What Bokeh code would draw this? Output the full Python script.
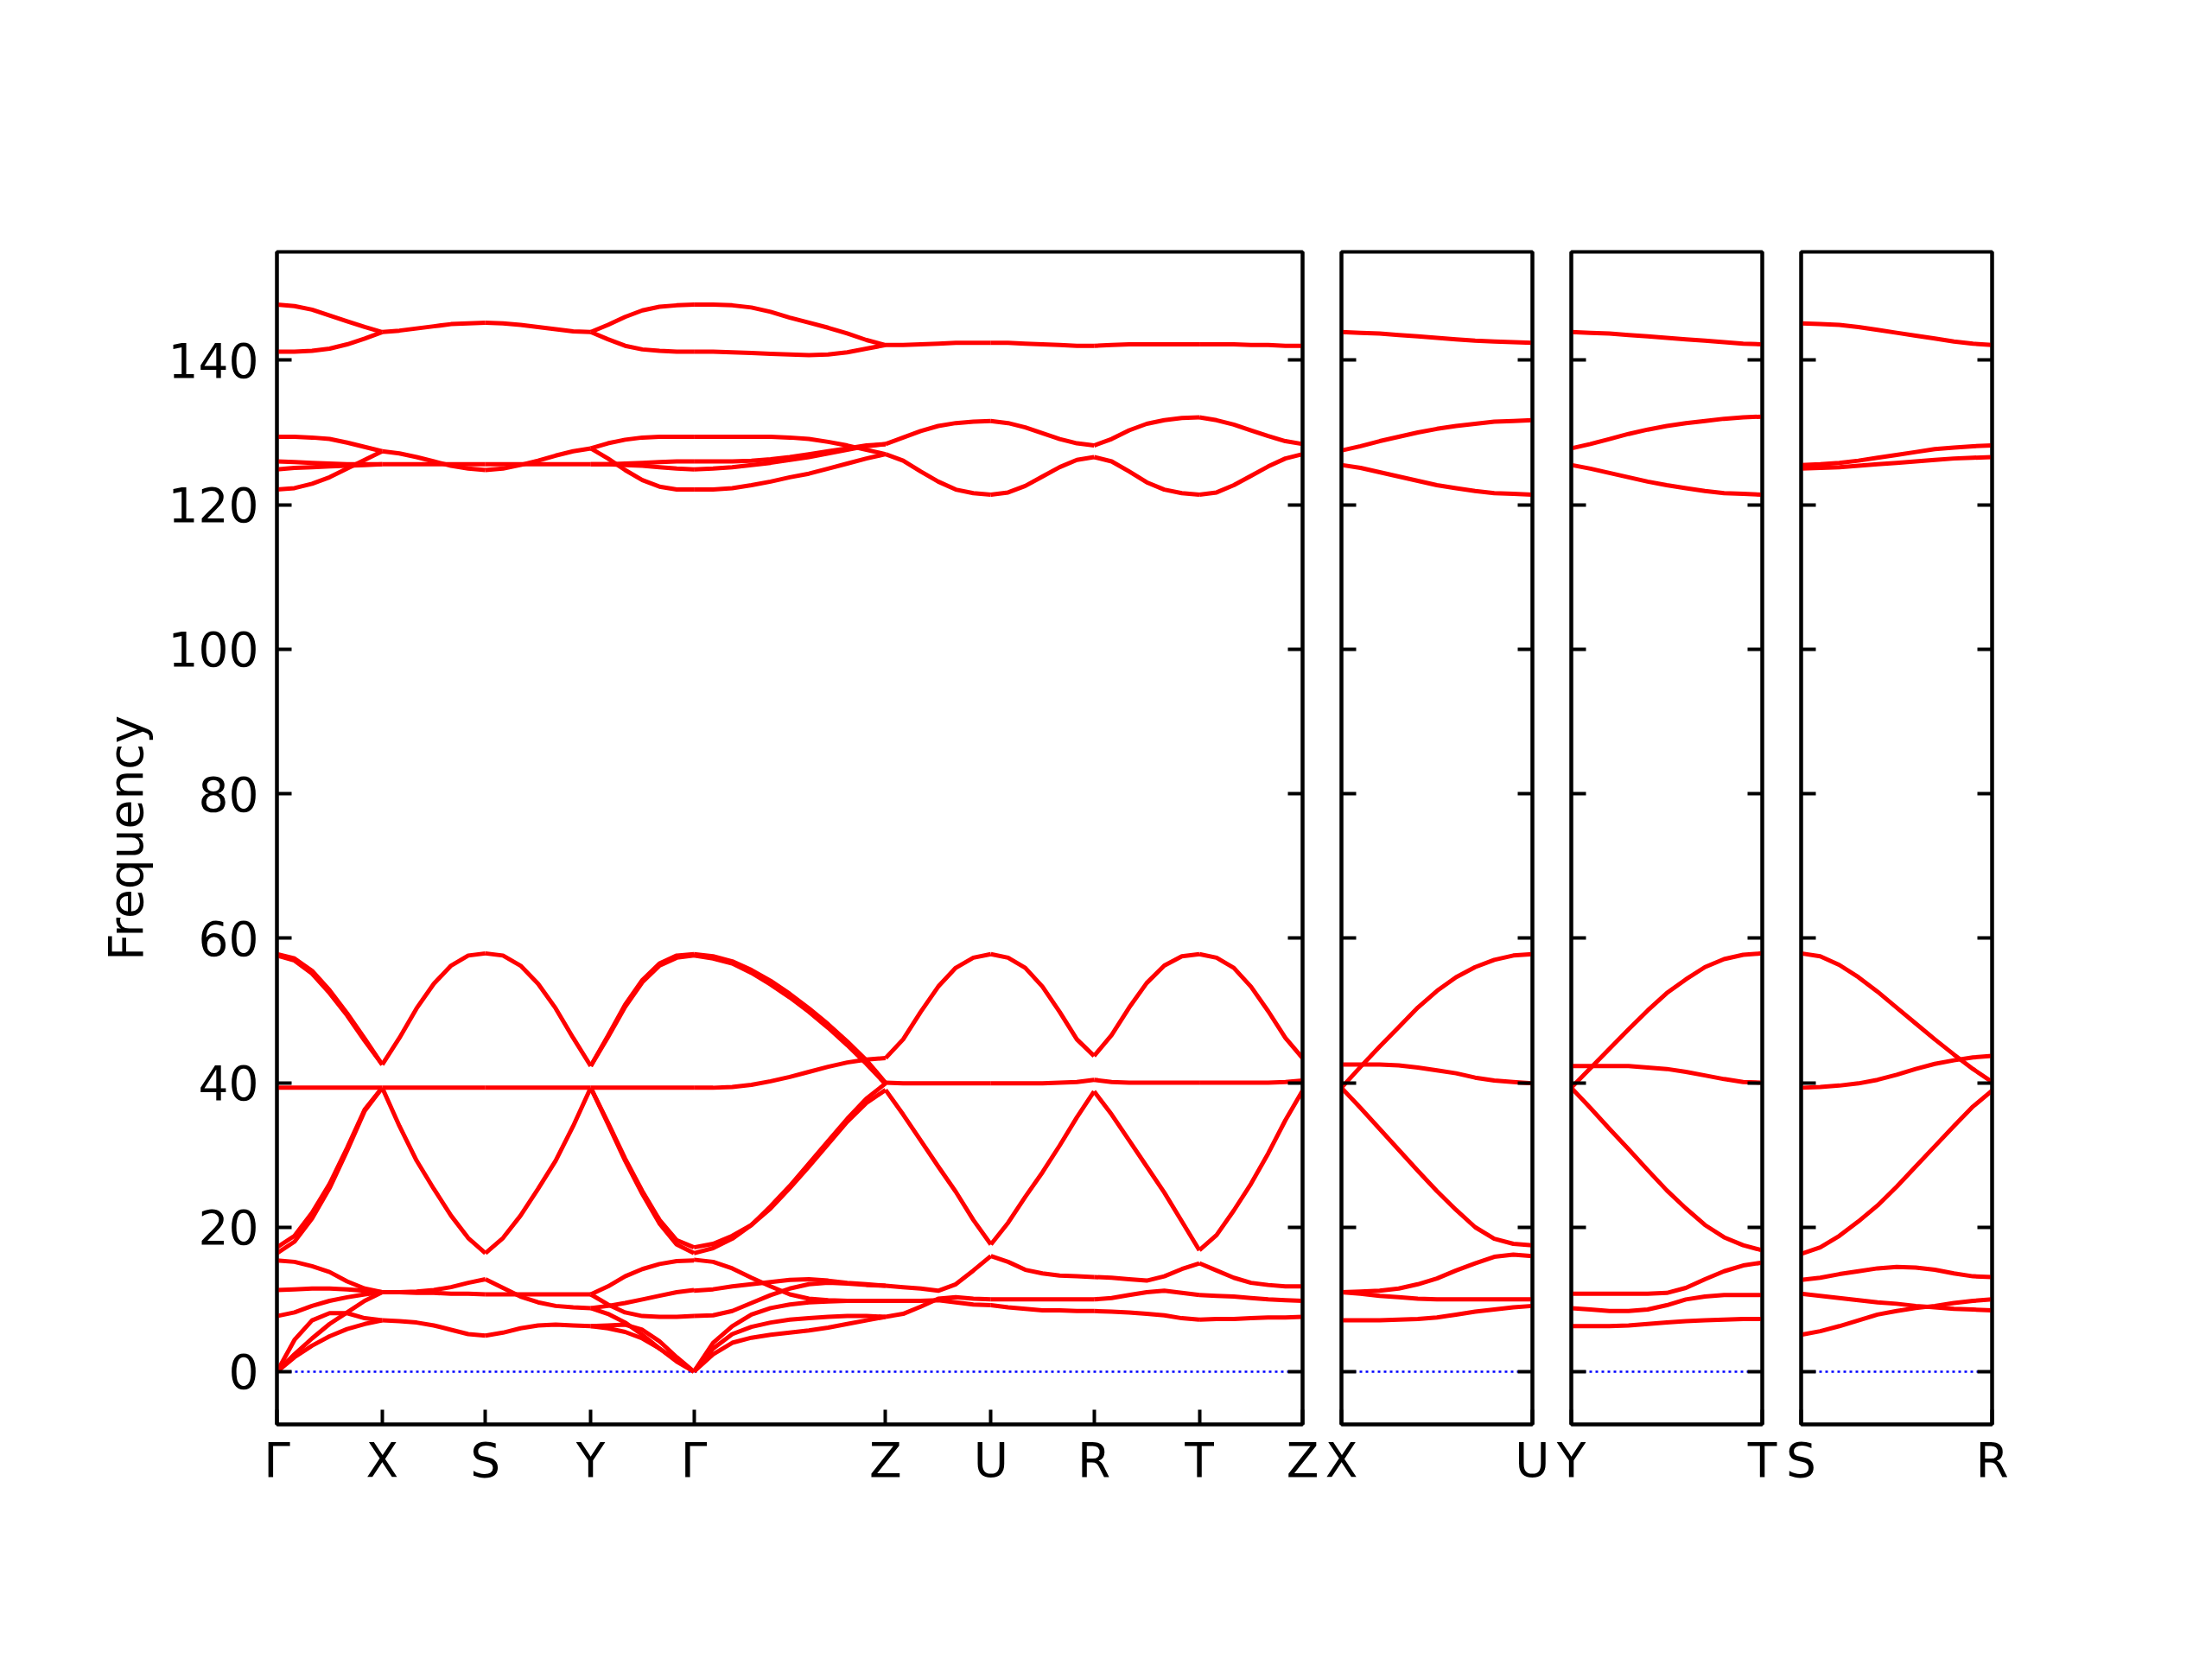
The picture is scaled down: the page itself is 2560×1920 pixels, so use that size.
from bokeh.plotting import figure
from bokeh.models import Range1d, FixedTicker, LinearAxis, CustomJSTickFormatter, Span
from bokeh.layouts import row
from bokeh.embed import file_html
from bokeh.resources import INLINE

# ------------------------------------------------------------------ data
main_labels = ["Γ", "X", "S", "Y", "Γ", "Z", "U", "R", "T", "Z"]
main_seg_len = [1.0, 0.98, 1.0, 0.98, 1.82, 1.0, 0.98, 1.0, 0.98]
side_len = 1.82
side_labels = [["X", "U"], ["Y", "T"], ["S", "R"]]
yticks = [0, 20, 40, 60, 80, 100, 120, 140]

# each list: one band along the segment, evenly spaced samples
seg_GX = [
    [147.7, 147.5, 147.0, 146.2, 145.4, 144.6, 143.9],
    [141.2, 141.2, 141.3, 141.6, 142.2, 143.0, 143.9],
    [129.4, 129.4, 129.3, 129.1, 128.6, 128.0, 127.4],
    [122.1, 122.3, 122.9, 123.8, 125.0, 126.2, 127.4],
    [126.0, 125.9, 125.8, 125.7, 125.6, 125.6, 125.6],
    [124.9, 125.1, 125.2, 125.3, 125.4, 125.5, 125.6],
    [57.8, 57.2, 55.5, 52.8, 49.6, 46.1, 42.5],
    [57.6, 56.9, 55.1, 52.4, 49.3, 45.8, 42.5],
    [39.3, 39.3, 39.3, 39.3, 39.3, 39.3, 39.3],
    [17.2, 18.8, 22.0, 26.0, 31.0, 36.3, 39.3],
    [16.4, 18.0, 21.2, 25.4, 30.6, 36.1, 39.3],
    [15.4, 15.2, 14.6, 13.8, 12.5, 11.5, 11.0],
    [11.3, 11.4, 11.5, 11.5, 11.4, 11.2, 11.0],
    [7.7, 8.2, 9.1, 9.8, 10.3, 10.7, 11.0],
    [0.0, 4.4, 7.1, 8.1, 8.1, 7.4, 7.1],
    [0.0, 2.4, 4.6, 6.6, 8.2, 9.8, 11.0],
    [0.0, 2.0, 3.6, 4.9, 5.9, 6.6, 7.1],
]
seg_XS = [
    [143.9, 144.1, 144.4, 144.7, 145.0, 145.1, 145.2],
    [127.4, 127.1, 126.6, 126.0, 125.4, 125.0, 124.8],
    [125.6, 125.6, 125.6, 125.6, 125.6, 125.6, 125.6],
    [42.5, 46.2, 50.3, 53.7, 56.2, 57.6, 57.9],
    [39.3, 39.3, 39.3, 39.3, 39.3, 39.3, 39.3],
    [39.3, 34.0, 29.2, 25.3, 21.6, 18.5, 16.4],
    [11.0, 11.0, 11.1, 11.3, 11.7, 12.3, 12.8],
    [11.0, 11.0, 10.9, 10.9, 10.8, 10.8, 10.7],
    [7.1, 7.0, 6.8, 6.4, 5.8, 5.2, 5.0],
]
seg_SY = [
    [145.2, 145.1, 144.9, 144.6, 144.3, 144.0, 143.9],
    [124.8, 125.0, 125.5, 126.1, 126.8, 127.4, 127.8],
    [125.6, 125.6, 125.6, 125.6, 125.6, 125.6, 125.6],
    [57.9, 57.6, 56.2, 53.7, 50.3, 46.2, 42.3],
    [39.3, 39.3, 39.3, 39.3, 39.3, 39.3, 39.3],
    [16.4, 18.5, 21.6, 25.3, 29.2, 34.0, 39.3],
    [12.8, 11.6, 10.4, 9.6, 9.1, 8.9, 8.8],
    [10.7, 10.7, 10.7, 10.7, 10.7, 10.7, 10.7],
    [5.0, 5.4, 6.0, 6.4, 6.5, 6.4, 6.3],
]
seg_YG = [
    [143.9, 144.9, 146.0, 146.9, 147.4, 147.6, 147.7],
    [143.9, 142.9, 142.0, 141.5, 141.3, 141.2, 141.2],
    [127.8, 128.5, 129.0, 129.3, 129.4, 129.4, 129.4],
    [127.8, 126.4, 124.8, 123.4, 122.5, 122.1, 122.1],
    [125.6, 125.6, 125.7, 125.8, 125.9, 126.0, 126.0],
    [125.6, 125.6, 125.5, 125.4, 125.2, 125.0, 124.9],
    [42.3, 46.5, 50.8, 54.2, 56.5, 57.6, 57.8],
    [42.3, 46.3, 50.5, 53.9, 56.2, 57.3, 57.6],
    [39.3, 39.3, 39.3, 39.3, 39.3, 39.3, 39.3],
    [39.3, 34.5, 29.5, 25.0, 21.0, 18.2, 17.2],
    [39.3, 34.3, 29.2, 24.6, 20.5, 17.6, 16.4],
    [10.7, 11.8, 13.2, 14.2, 14.9, 15.3, 15.4],
    [10.7, 9.3, 8.2, 7.7, 7.6, 7.6, 7.7],
    [8.8, 9.1, 9.5, 10.0, 10.5, 11.0, 11.3],
    [8.8, 8.0, 6.8, 5.1, 3.2, 1.4, 0.0],
    [6.3, 6.4, 6.5, 5.8, 4.2, 2.0, 0.0],
    [6.3, 6.0, 5.5, 4.6, 3.2, 1.6, 0.0],
]
seg_GZ = [
    [147.7, 147.7, 147.6, 147.3, 146.7, 145.9, 145.2, 144.5, 143.7, 142.8, 142.1],
    [141.2, 141.2, 141.1, 141.0, 140.9, 140.8, 140.7, 140.8, 141.1, 141.6, 142.1],
    [129.4, 129.4, 129.4, 129.4, 129.4, 129.3, 129.1, 128.7, 128.2, 127.6, 127.0],
    [126.0, 126.0, 126.0, 126.1, 126.3, 126.6, 127.0, 127.4, 127.8, 128.2, 128.4],
    [124.9, 125.0, 125.2, 125.5, 125.8, 126.2, 126.6, 127.1, 127.6, 128.1, 128.4],
    [122.1, 122.1, 122.3, 122.7, 123.2, 123.8, 124.3, 125.0, 125.7, 126.4, 127.0],
    [57.8, 57.5, 56.8, 55.6, 54.1, 52.3, 50.3, 48.1, 45.7, 43.1, 40.0],
    [57.6, 57.2, 56.5, 55.2, 53.6, 51.8, 49.8, 47.6, 45.2, 42.6, 39.8],
    [39.3, 39.3, 39.4, 39.7, 40.2, 40.8, 41.5, 42.2, 42.8, 43.2, 43.4],
    [17.2, 17.7, 18.8, 20.3, 22.6, 25.4, 28.4, 31.5, 34.6, 37.2, 39.0],
    [16.4, 17.1, 18.4, 20.3, 22.9, 25.7, 28.8, 31.9, 35.0, 37.8, 39.9],
    [15.5, 15.2, 14.3, 13.0, 11.8, 10.7, 10.1, 9.9, 9.8, 9.8, 9.8],
    [11.2, 11.4, 11.8, 12.1, 12.4, 12.7, 12.8, 12.6, 12.3, 12.1, 11.9],
    [7.7, 7.8, 8.4, 9.5, 10.6, 11.5, 12.1, 12.3, 12.2, 12.0, 11.9],
    [0.0, 4.0, 6.3, 7.9, 8.8, 9.3, 9.6, 9.7, 9.8, 9.8, 9.8],
    [0.0, 3.2, 5.2, 6.2, 6.8, 7.2, 7.4, 7.6, 7.7, 7.7, 7.6],
    [0.0, 2.4, 4.0, 4.7, 5.1, 5.4, 5.7, 6.1, 6.6, 7.1, 7.6],
]
seg_ZU = [
    [142.1, 142.1, 142.2, 142.3, 142.4, 142.4, 142.4],
    [128.4, 129.3, 130.2, 130.9, 131.3, 131.5, 131.6],
    [127.0, 126.1, 124.6, 123.2, 122.1, 121.6, 121.4],
    [43.4, 46.0, 49.8, 53.3, 55.9, 57.3, 57.8],
    [40.0, 39.9, 39.9, 39.9, 39.9, 39.9, 39.9],
    [39.0, 35.6, 32.0, 28.4, 24.9, 21.0, 17.6],
    [11.9, 11.7, 11.5, 11.2, 12.1, 14.0, 16.0],
    [9.8, 9.8, 9.8, 9.9, 9.6, 9.3, 9.2],
    [7.6, 8.0, 9.0, 10.1, 10.3, 10.1, 10.0],
]
seg_UR = [
    [142.4, 142.4, 142.3, 142.2, 142.1, 142.0, 142.0],
    [131.6, 131.3, 130.7, 129.9, 129.1, 128.5, 128.2],
    [121.4, 121.7, 122.6, 123.9, 125.2, 126.2, 126.6],
    [57.8, 57.3, 55.9, 53.3, 49.8, 46.0, 43.7],
    [39.9, 39.9, 39.9, 39.9, 40.0, 40.1, 40.4],
    [17.6, 20.6, 24.2, 27.6, 31.3, 35.2, 38.8],
    [16.0, 15.2, 14.1, 13.6, 13.3, 13.2, 13.1],
    [10.0, 10.0, 10.0, 10.0, 10.0, 10.0, 10.0],
    [9.2, 8.9, 8.7, 8.5, 8.5, 8.4, 8.4],
]
seg_RT = [
    [142.0, 142.1, 142.2, 142.2, 142.2, 142.2, 142.2],
    [128.2, 129.1, 130.3, 131.2, 131.7, 132.0, 132.1],
    [126.6, 126.0, 124.6, 123.1, 122.1, 121.6, 121.4],
    [43.7, 46.6, 50.4, 53.8, 56.2, 57.5, 57.8],
    [40.4, 40.1, 40.0, 40.0, 40.0, 40.0, 40.0],
    [38.8, 35.6, 32.0, 28.4, 24.8, 20.8, 16.8],
    [13.1, 13.0, 12.8, 12.6, 13.2, 14.2, 15.0],
    [10.0, 10.2, 10.6, 11.0, 11.2, 10.9, 10.6],
    [8.4, 8.3, 8.2, 8.0, 7.8, 7.4, 7.2],
]
seg_TZ = [
    [142.2, 142.2, 142.2, 142.1, 142.1, 142.0, 142.0],
    [132.1, 131.7, 131.1, 130.3, 129.5, 128.8, 128.4],
    [121.4, 121.7, 122.7, 124.0, 125.3, 126.4, 127.0],
    [57.8, 57.3, 55.9, 53.3, 49.9, 46.2, 43.4],
    [40.0, 40.0, 40.0, 40.0, 40.0, 40.1, 40.3],
    [16.8, 18.9, 22.3, 26.0, 30.2, 34.8, 38.9],
    [15.0, 14.0, 13.0, 12.3, 12.0, 11.8, 11.8],
    [10.6, 10.5, 10.4, 10.2, 10.0, 9.9, 9.8],
    [7.2, 7.3, 7.3, 7.4, 7.5, 7.5, 7.6],
]
seg_XU = [
    [143.9, 143.8, 143.7, 143.5, 143.3, 143.1, 142.9, 142.7, 142.6, 142.5, 142.4],
    [127.5, 128.1, 128.8, 129.4, 130.0, 130.5, 130.9, 131.2, 131.5, 131.6, 131.7],
    [125.5, 125.1, 124.5, 123.9, 123.3, 122.7, 122.3, 121.9, 121.6, 121.5, 121.4],
    [39.3, 42.2, 45.0, 47.7, 50.4, 52.7, 54.6, 56.0, 57.0, 57.6, 57.8],
    [42.5, 42.5, 42.5, 42.4, 42.1, 41.7, 41.3, 40.7, 40.3, 40.1, 39.9],
    [39.3, 36.5, 33.6, 30.7, 27.8, 25.0, 22.4, 20.0, 18.4, 17.7, 17.5],
    [11.0, 11.1, 11.2, 11.5, 12.1, 12.9, 14.0, 15.0, 15.9, 16.2, 16.0],
    [11.0, 10.8, 10.5, 10.3, 10.1, 10.0, 10.0, 10.0, 10.0, 10.0, 10.0],
    [7.1, 7.1, 7.1, 7.2, 7.3, 7.5, 7.9, 8.3, 8.6, 8.9, 9.1],
]
seg_YT = [
    [143.9, 143.8, 143.7, 143.5, 143.3, 143.1, 142.9, 142.7, 142.5, 142.3, 142.2],
    [127.8, 128.4, 129.1, 129.8, 130.4, 130.9, 131.3, 131.6, 131.9, 132.1, 132.2],
    [125.5, 125.0, 124.4, 123.8, 123.2, 122.7, 122.3, 121.9, 121.6, 121.5, 121.4],
    [39.3, 42.0, 44.7, 47.4, 50.0, 52.4, 54.3, 56.0, 57.1, 57.7, 57.9],
    [42.3, 42.3, 42.3, 42.3, 42.1, 41.9, 41.5, 41.0, 40.5, 40.1, 40.0],
    [39.3, 36.5, 33.6, 30.8, 27.9, 25.1, 22.6, 20.3, 18.6, 17.5, 16.8],
    [10.8, 10.8, 10.8, 10.8, 10.8, 10.9, 11.6, 12.8, 13.9, 14.7, 15.1],
    [8.8, 8.6, 8.4, 8.4, 8.6, 9.2, 10.0, 10.4, 10.6, 10.6, 10.6],
    [6.3, 6.3, 6.3, 6.4, 6.6, 6.8, 7.0, 7.1, 7.2, 7.3, 7.3],
]
seg_SR = [
    [145.1, 145.0, 144.9, 144.6, 144.2, 143.8, 143.4, 143.0, 142.6, 142.3, 142.1],
    [125.5, 125.6, 125.8, 126.1, 126.5, 126.9, 127.3, 127.7, 127.9, 128.1, 128.2],
    [125.0, 125.1, 125.2, 125.4, 125.6, 125.8, 126.0, 126.2, 126.4, 126.5, 126.6],
    [57.9, 57.5, 56.3, 54.6, 52.6, 50.4, 48.2, 46.0, 43.9, 41.9, 40.1],
    [39.3, 39.4, 39.6, 39.9, 40.4, 41.1, 41.9, 42.6, 43.1, 43.5, 43.7],
    [16.3, 17.2, 18.8, 20.8, 23.0, 25.6, 28.4, 31.2, 34.0, 36.7, 38.9],
    [12.7, 13.0, 13.5, 13.9, 14.3, 14.5, 14.4, 14.1, 13.6, 13.2, 13.1],
    [10.8, 10.5, 10.2, 9.9, 9.6, 9.4, 9.1, 8.9, 8.7, 8.6, 8.5],
    [5.1, 5.6, 6.3, 7.1, 7.9, 8.4, 8.8, 9.1, 9.5, 9.8, 10.0],
]

main_segments = [seg_GX, seg_XS, seg_SY, seg_YG, seg_GZ, seg_ZU, seg_UR, seg_RT, seg_TZ]
side_segments = [seg_XU, seg_YT, seg_SR]

# ------------------------------------------------------------------ style
FONT = "DejaVu Sans"
FS = "55px"
FRAME_H = 1357
TOP_B = 291
BOT_B = 200
Y0, Y1 = -7.3, 155.0
RED = "#ff0000"
LW = 5

LABEL_JS = """
let best = 0;
for (let i = 0; i < pos.length; i++) {
  if (Math.abs(pos[i] - tick) < Math.abs(pos[best] - tick)) { best = i; }
}
return labs[best];
"""


def segment_xy(bands, x0, length):
    xs, ys = [], []
    for band in bands:
        n = len(band)
        xs.append([x0 + length * i / (n - 1) for i in range(n)])
        ys.append(list(band))
    return xs, ys


def make_panel(xlen, tick_pos, tick_labels, frame_w, bl, br, main):
    p = figure(frame_width=frame_w, frame_height=FRAME_H,
               x_range=Range1d(0, xlen), y_range=Range1d(Y0, Y1),
               output_backend="svg", toolbar_location=None,
               min_border_left=bl, min_border_right=br,
               min_border_top=TOP_B, min_border_bottom=BOT_B)
    p.grid.visible = False
    p.outline_line_color = "black"
    p.outline_line_width = 4
    p.outline_line_alpha = 1.0
    p.background_fill_color = "white"
    p.border_fill_color = "white"

    xa = p.xaxis[0]
    xa.ticker = FixedTicker(ticks=tick_pos)
    xa.formatter = CustomJSTickFormatter(args=dict(pos=tick_pos, labs=tick_labels), code=LABEL_JS)
    xa.major_tick_in = 17
    xa.major_tick_out = 0
    xa.minor_tick_line_color = None
    xa.axis_line_width = 4
    xa.major_tick_line_width = 4
    xa.major_label_text_font = FONT
    xa.major_label_text_font_size = FS
    xa.major_label_text_color = "black"
    xa.major_label_standoff = 9

    ya = p.yaxis[0]
    ya.ticker = FixedTicker(ticks=yticks)
    ya.major_tick_in = 17
    ya.major_tick_out = 0
    ya.minor_tick_line_color = None
    ya.axis_line_width = 4
    ya.major_tick_line_width = 4
    if main:
        ya.major_label_text_font = FONT
        ya.major_label_text_font_size = FS
        ya.major_label_text_color = "black"
        ya.major_label_standoff = 21
        ya.axis_label = "Frequency"
        ya.axis_label_text_font = FONT
        ya.axis_label_text_font_size = FS
        ya.axis_label_text_font_style = "normal"
        ya.axis_label_text_color = "black"
        ya.axis_label_standoff = 14
    else:
        ya.formatter = CustomJSTickFormatter(code="return '';")
        ya.major_label_standoff = 0

    ra = LinearAxis(ticker=FixedTicker(ticks=yticks),
                    formatter=CustomJSTickFormatter(code="return '';"),
                    major_tick_in=17, major_tick_out=0, minor_tick_line_color=None,
                    axis_line_width=4, major_tick_line_width=4, major_label_standoff=0)
    p.add_layout(ra, "right")

    p.add_layout(Span(location=0, dimension="width", line_color="#0000ff",
                      line_width=2.5, line_dash="3 4", level="underlay"))
    return p


# main panel
kpos = [0.0]
for L in main_seg_len:
    kpos.append(kpos[-1] + L)
p1 = make_panel(kpos[-1], kpos, main_labels, 1187, 320, 22, True)
for seg, x0, L in zip(main_segments, kpos[:-1], main_seg_len):
    xs, ys = segment_xy(seg, x0, L)
    p1.multi_line(xs, ys, line_color=RED, line_width=LW, line_join="round")

panels = [p1]
for seg, labs, br in zip(side_segments, side_labels, [22, 22, 30]):
    p = make_panel(side_len, [0.0, side_len], labs, 221, 23, br, False)
    xs, ys = segment_xy(seg, 0.0, side_len)
    p.multi_line(xs, ys, line_color=RED, line_width=LW, line_join="round")
    panels.append(p)

layout = row(*panels)
layout.spacing = 0
open("out.html", "w").write(file_html(layout, INLINE))
